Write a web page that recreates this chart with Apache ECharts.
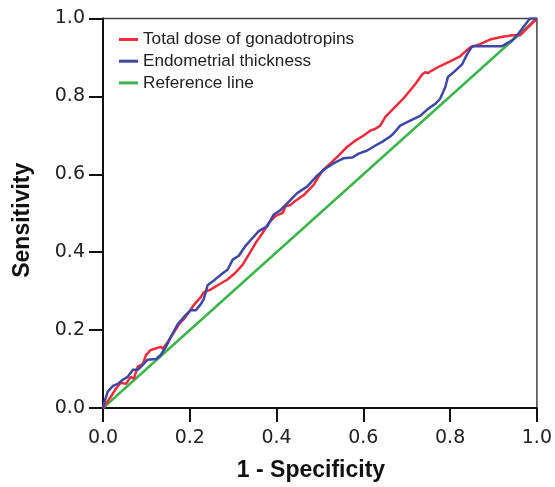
<!DOCTYPE html>
<html>
<head>
<meta charset="utf-8">
<script src="https://cdn.jsdelivr.net/npm/echarts@6/dist/echarts.min.js"></script>
<style>html,body{margin:0;padding:0;background:#fff;}#c{width:555px;height:487px;}</style>
</head>
<body>
<div id="c"></div>
<script>
var xTicks = [0.0, 0.2, 0.4, 0.6, 0.8, 1.0];
var seriesNames = ['Total dose of gonadotropins', 'Endometrial thickness', 'Reference line'];

var totalDoseFPR = [0,0.018,0.030,0.041,0.053,0.064,0.071,0.080,0.092,0.099,0.110,0.133,0.138,0.149,0.161,0.175,0.186,0.198,0.209,0.225,0.232,0.248,0.267,0.287,0.306,0.322,0.336,0.352,0.368,0.382,0.398,0.414,0.421,0.432,0.439,0.462,0.485,0.506,0.508,0.524,0.543,0.563,0.582,0.600,0.616,0.628,0.639,0.651,0.662,0.692,0.720,0.736,0.743,0.749,0.759,0.777,0.800,0.823,0.846,0.869,0.892,0.915,0.943,0.961,1.0];
var totalDoseTPR = [0,0.029,0.050,0.065,0.062,0.080,0.075,0.106,0.113,0.136,0.149,0.157,0.152,0.169,0.190,0.215,0.228,0.246,0.264,0.284,0.297,0.304,0.317,0.330,0.348,0.368,0.394,0.424,0.450,0.475,0.493,0.501,0.518,0.521,0.528,0.546,0.572,0.610,0.615,0.628,0.648,0.671,0.687,0.699,0.712,0.717,0.725,0.748,0.760,0.794,0.832,0.857,0.862,0.860,0.867,0.878,0.890,0.903,0.926,0.934,0.946,0.952,0.957,0.957,1.0];

var endoFPR = [0,0.002,0.011,0.023,0.034,0.046,0.057,0.069,0.080,0.092,0.103,0.122,0.133,0.145,0.156,0.172,0.186,0.202,0.214,0.225,0.232,0.241,0.255,0.278,0.287,0.299,0.313,0.329,0.345,0.359,0.379,0.393,0.409,0.425,0.448,0.471,0.494,0.513,0.531,0.554,0.575,0.589,0.609,0.628,0.644,0.662,0.669,0.685,0.708,0.731,0.749,0.766,0.777,0.789,0.795,0.811,0.828,0.839,0.851,0.876,0.920,0.943,0.956,0.968,0.984,1.0];
var endoTPR = [0,0.011,0.042,0.057,0.062,0.073,0.080,0.098,0.098,0.111,0.124,0.126,0.136,0.157,0.182,0.215,0.233,0.251,0.251,0.266,0.279,0.315,0.327,0.348,0.355,0.381,0.391,0.417,0.437,0.454,0.467,0.496,0.508,0.526,0.552,0.569,0.597,0.615,0.628,0.641,0.643,0.653,0.661,0.674,0.684,0.697,0.704,0.725,0.738,0.750,0.768,0.781,0.794,0.824,0.850,0.865,0.883,0.908,0.929,0.929,0.929,0.944,0.959,0.977,1.0,1.0];

var refX = [0, 1];
var refY = [0, 1];

function zip(a, b) { return a.map(function (v, i) { return [v, b[i]]; }); }

var chart = echarts.init(document.getElementById('c'), null, {renderer: 'canvas'});
var tickFont = {fontFamily: 'DejaVu Sans, sans-serif', fontSize: 19, color: '#222',
  formatter: function (v) { return v.toFixed(1); }};
var axisCommon = {
  type: 'value', min: 0, max: 1, interval: 0.2,
  splitLine: {show: false},
  axisLine: {show: true, lineStyle: {color: '#111', width: 2}},
  axisTick: {show: true, inside: false, length: 14, lineStyle: {color: '#111', width: 2}},
  nameLocation: 'middle'
};
chart.setOption({
  animation: false,
  backgroundColor: '#fff',
  grid: {left: 103, right: 18, top: 18.5, bottom: 75.5, show: true, borderColor: '#444', borderWidth: 1.5, backgroundColor: 'transparent'},
  legend: {
    orient: 'vertical', left: 119, top: 31, itemGap: 4.7, itemWidth: 19, itemHeight: 3,
    icon: 'rect', padding: 0,
    data: seriesNames,
    textStyle: {fontFamily: 'Liberation Sans, Arial, sans-serif', fontSize: 17.2, lineHeight: 17, color: '#222'}
  },
  xAxis: Object.assign({}, axisCommon, {
    name: '1 - Specificity', nameGap: 51,
    nameTextStyle: {fontFamily: 'Liberation Sans, Arial, sans-serif', fontSize: 23, fontWeight: 'bold', color: '#111', padding: [0, 18, 0, 0]},
    axisLabel: Object.assign({margin: 21}, tickFont)
  }),
  yAxis: Object.assign({}, axisCommon, {
    name: 'Sensitivity', nameGap: 69,
    nameTextStyle: {fontFamily: 'Liberation Sans, Arial, sans-serif', fontSize: 23, fontWeight: 'bold', color: '#111', padding: [0, 14, 0, 0]},
    axisLabel: Object.assign({margin: 18}, tickFont)
  }),
  series: [
    {name: seriesNames[2], type: 'line', data: zip(refX, refY), showSymbol: false, symbol: 'none', z: 1,
      lineStyle: {color: '#3bb54a', width: 2.5}, itemStyle: {color: '#3bb54a'}},
    {name: seriesNames[0], type: 'line', data: zip(totalDoseFPR, totalDoseTPR), showSymbol: false, symbol: 'none', z: 2,
      lineStyle: {color: '#ee2b3b', width: 2.5}, itemStyle: {color: '#ee2b3b'}},
    {name: seriesNames[1], type: 'line', data: zip(endoFPR, endoTPR), showSymbol: false, symbol: 'none', z: 3,
      lineStyle: {color: '#3d47a6', width: 2.5}, itemStyle: {color: '#3d47a6'}}
  ]
});
</script>
</body>
</html>
